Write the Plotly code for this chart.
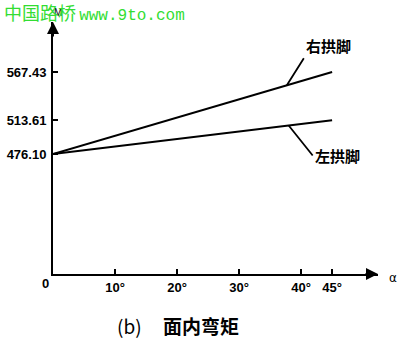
import numpy as np
import plotly.graph_objects as go

# data
angles = [0, 45]
right_foot = [476.10, 567.43]   # 右拱脚
left_foot = [476.10, 513.61]    # 左拱脚
x_tick_vals = [10, 20, 30, 40, 45]
x_tick_text = ["10°", "20°", "30°", "40°", "45°"]
y_tick_vals = [476.10, 513.61, 567.43]
y_tick_text = ["476.10", "513.61", "567.43"]

fig = go.Figure()
for vals in (right_foot, left_foot):
    fig.add_trace(go.Scatter(x=angles, y=vals, mode="lines",
                             line=dict(color="black", width=2),
                             showlegend=False, hoverinfo="skip"))

tick_font = dict(family="Liberation Sans", size=13, color="black", weight="bold")
fig.update_layout(
    width=400, height=349,
    margin=dict(l=53, r=22, t=22, b=75),
    paper_bgcolor="white", plot_bgcolor="white",
    xaxis=dict(range=[0, 52.4], showgrid=False, zeroline=False, automargin=False,
               showline=True, linecolor="black", linewidth=2,
               ticks="inside", ticklen=5, tickwidth=1.5, tickcolor="black",
               tickvals=x_tick_vals, ticktext=x_tick_text,
               tickfont=tick_font, ticklabelstandoff=0),
    yaxis=dict(range=[342.4, 623.1], showgrid=False, zeroline=False, automargin=False,
               showline=True, linecolor="black", linewidth=2,
               ticks="inside", ticklen=5, tickwidth=1.5, tickcolor="black",
               tickvals=y_tick_vals, ticktext=y_tick_text,
               tickfont=tick_font, ticklabelstandoff=2),
)

# axis arrows
fig.add_annotation(xref="paper", yref="paper", x=1, y=0, ax=-14, ay=0,
                   showarrow=True, arrowhead=2, arrowsize=1.2, arrowwidth=2,
                   arrowcolor="black", text="")
fig.add_annotation(xref="paper", yref="paper", x=0, y=1, ax=0, ay=16,
                   showarrow=True, arrowhead=2, arrowsize=1.2, arrowwidth=2,
                   arrowcolor="black", text="")

# axis labels
fig.add_annotation(xref="paper", yref="paper", x=1, y=0, xshift=9, yshift=-4,
                   text="α", showarrow=False, xanchor="left", yanchor="middle",
                   font=dict(family="DejaVu Sans", size=12, color="black"))
fig.add_annotation(xref="paper", yref="paper", x=0, y=1, xshift=5, yshift=10,
                   text="M", showarrow=False, xanchor="center", yanchor="middle",
                   font=dict(family="Liberation Sans", size=10, color="black"))
fig.add_annotation(xref="paper", yref="paper", x=0, y=0, xshift=-8, yshift=-9,
                   text="0", showarrow=False, xanchor="center", yanchor="middle",
                   font=tick_font)

# leader labels
lab_font = dict(family="Noto Sans CJK SC", size=15, color="black")
xr = 37.7
yr = float(np.interp(xr, angles, right_foot))
fig.add_annotation(x=xr, y=yr, ax=17, ay=-27, text="<b>右拱脚</b>",
                   showarrow=True, arrowhead=0, arrowwidth=1.8, arrowcolor="black",
                   font=lab_font, xanchor="left", yanchor="bottom")
xl = 38.0
yl = float(np.interp(xl, angles, left_foot))
fig.add_annotation(x=xl, y=yl, ax=24, ay=30, text="<b>左拱脚</b>",
                   showarrow=True, arrowhead=0, arrowwidth=1.8, arrowcolor="black",
                   font=lab_font, xanchor="left", yanchor="middle")

# caption
fig.add_annotation(xref="paper", yref="paper", x=0.385, y=0, yshift=-51,
                   text="(b)     <b>面内弯矩</b>", showarrow=False,
                   xanchor="center", yanchor="middle",
                   font=dict(family="Noto Sans CJK SC", size=19, color="black"))

# watermark
fig.add_annotation(xref="paper", yref="paper", x=0, y=1, xanchor="left",
                   yanchor="middle", xshift=-50, yshift=10, borderpad=0,
                   text="<span style='font-family:Noto Sans CJK SC;font-size:18px'>中国路桥</span> "
                        "<span style='font-family:Liberation Mono;font-size:16px'>www.9to.com</span>",
                   showarrow=False, font=dict(color="#33dd33"))

fig.write_html("out.html")
